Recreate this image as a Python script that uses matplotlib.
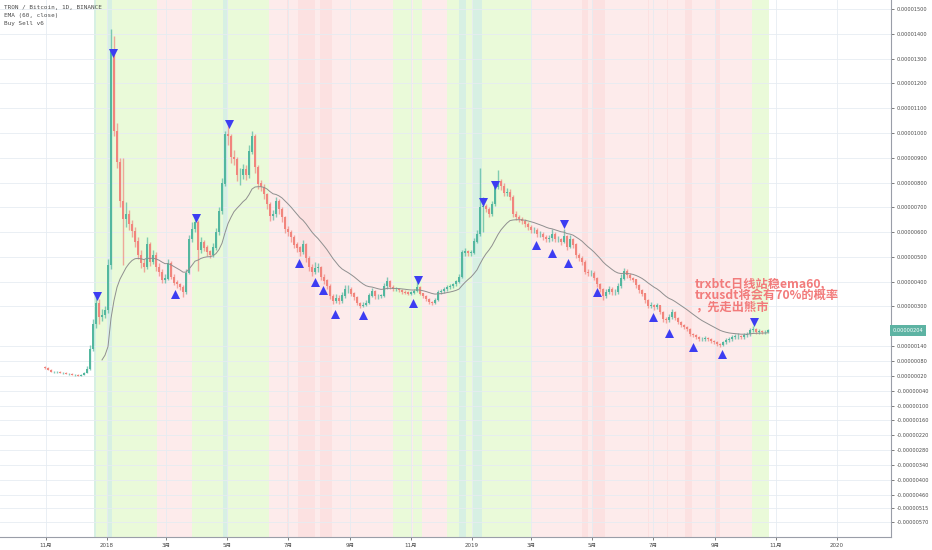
import numpy as np
import pandas as pd
import matplotlib
matplotlib.use('Agg')
import matplotlib.pyplot as plt
from matplotlib.transforms import blended_transform_factory

plt.rcParams['font.family'] = ['DejaVu Sans', 'Noto Sans CJK SC']

SAT = 1e-8

# TRX/BTC (Binance), one candle every 3 days, prices in satoshi
start_date = '2017-10-31'
first_open = 55
close = [52, 44, 36, 36, 36, 32, 32, 28, 28, 24, 24, 20, 24, 32, 48, 129, 228, 315, 256, 264,
         284, 468, 1337, 1008, 883, 725, 652, 672, 632, 604, 562, 508, 476, 460, 550, 480, 508, 460, 440, 408,
         412, 476, 420, 396, 389, 378, 359, 436, 571, 612, 640, 529, 558, 538, 521, 508, 538, 600, 684, 796,
         996, 988, 904, 896, 830, 830, 852, 830, 925, 988, 861, 796, 783, 754, 712, 664, 672, 725, 692, 660,
         612, 600, 579, 550, 538, 521, 550, 496, 460, 440, 456, 460, 420, 404, 381, 341, 322, 333, 322, 344,
         370, 370, 352, 337, 315, 304, 307, 315, 344, 363, 341, 341, 344, 381, 400, 378, 370, 370, 367, 359,
         356, 352, 356, 363, 378, 352, 341, 330, 319, 315, 326, 359, 363, 370, 378, 381, 389, 400, 420, 517,
         521, 517, 517, 562, 592, 700, 704, 692, 672, 712, 783, 804, 787, 758, 762, 742, 672, 660, 652, 644,
         632, 620, 608, 608, 592, 592, 579, 571, 575, 592, 571, 571, 562, 583, 542, 571, 550, 508, 496, 480,
         440, 436, 436, 416, 389, 370, 344, 359, 370, 359, 359, 381, 412, 444, 428, 416, 408, 385, 367, 352,
         326, 304, 304, 296, 304, 276, 248, 244, 256, 276, 252, 236, 224, 216, 208, 188, 184, 176, 168, 168,
         172, 168, 160, 156, 148, 144, 156, 164, 168, 176, 180, 180, 176, 184, 188, 204, 208, 196, 200, 196,
         196, 204]
high = [58, 54, 46, 40, 39, 38, 35, 34, 31, 30, 27, 26, 27, 36, 60, 145, 250, 341, 330, 290,
        300, 490, 1420, 1390, 1040, 900, 900, 720, 690, 650, 620, 580, 530, 490, 580, 560, 530, 520, 475, 450,
        430, 490, 485, 430, 405, 395, 385, 450, 590, 640, 670, 650, 580, 570, 550, 530, 555, 615, 700, 820,
        1010, 1040, 995, 930, 905, 860, 875, 870, 950, 1010, 995, 870, 810, 795, 760, 720, 690, 740, 735, 700,
        665, 625, 610, 590, 560, 545, 570, 555, 505, 470, 480, 475, 465, 430, 410, 390, 350, 350, 345, 360,
        385, 385, 378, 360, 342, 320, 318, 325, 355, 375, 368, 350, 352, 395, 420, 405, 385, 378, 376, 372,
        365, 362, 364, 372, 410, 384, 356, 345, 334, 324, 333, 368, 372, 378, 386, 390, 396, 408, 430, 530,
        535, 530, 530, 575, 610, 860, 740, 715, 700, 725, 800, 850, 815, 800, 780, 775, 750, 685, 670, 662,
        655, 640, 630, 620, 615, 605, 600, 588, 590, 612, 600, 585, 578, 612, 590, 590, 578, 556, 515, 502,
        486, 450, 448, 442, 420, 395, 375, 372, 382, 378, 370, 395, 430, 456, 450, 435, 420, 412, 390, 372,
        356, 330, 318, 310, 316, 308, 280, 256, 268, 288, 280, 258, 240, 230, 220, 212, 194, 190, 180, 176,
        180, 178, 172, 166, 160, 152, 162, 172, 178, 186, 190, 192, 186, 194, 198, 214, 222, 212, 208, 206,
        204, 210]
low = [48, 42, 34, 33, 33, 30, 29, 26, 25, 22, 21, 18, 18, 22, 30, 45, 120, 215, 230, 240,
       255, 275, 450, 990, 860, 700, 468, 620, 610, 580, 540, 490, 455, 440, 450, 465, 470, 445, 425, 395,
       395, 405, 410, 385, 375, 365, 340, 350, 430, 560, 600, 444, 515, 525, 505, 495, 500, 530, 590, 675,
       785, 950, 880, 870, 805, 790, 815, 810, 820, 915, 840, 775, 765, 735, 695, 645, 650, 660, 675, 640,
       595, 585, 560, 535, 520, 505, 510, 480, 445, 425, 430, 440, 405, 390, 370, 330, 310, 315, 312, 315,
       335, 355, 342, 328, 305, 295, 296, 300, 310, 338, 332, 332, 334, 338, 372, 370, 362, 362, 360, 352,
       349, 345, 346, 350, 358, 345, 334, 322, 312, 308, 310, 322, 352, 356, 364, 372, 375, 384, 395, 415,
       505, 505, 505, 510, 555, 585, 600, 680, 660, 665, 705, 775, 770, 745, 745, 730, 660, 648, 640, 632,
       620, 608, 598, 596, 580, 580, 568, 560, 562, 566, 560, 560, 550, 555, 530, 535, 538, 495, 484, 468,
       430, 425, 424, 405, 378, 358, 326, 335, 350, 348, 348, 352, 375, 405, 415, 405, 398, 375, 356, 342,
       316, 295, 294, 286, 290, 268, 238, 234, 238, 250, 244, 228, 216, 208, 200, 180, 176, 168, 160, 160,
       162, 160, 152, 148, 140, 136, 140, 150, 158, 162, 170, 170, 168, 170, 178, 182, 196, 188, 190, 188,
       188, 192]

# Buy Sell v6 signals (date, price level of the marker in satoshi)
sell_dates = ['2017-12-22', '2018-01-07', '2018-03-31', '2018-05-03', '2018-11-08',
              '2019-01-12', '2019-01-24', '2019-04-03', '2019-10-10']
sell_levels = [344, 1321, 656, 1038, 408, 721, 792, 633, 236]
buy_dates = ['2018-03-10', '2018-07-12', '2018-07-28', '2018-08-05', '2018-08-17', '2018-09-14',
             '2018-11-03', '2019-03-06', '2019-03-22', '2019-04-07', '2019-05-06', '2019-07-01',
             '2019-07-17', '2019-08-10', '2019-09-08']
buy_levels = [352, 476, 400, 367, 268, 264, 315, 550, 517, 476, 359, 256, 192, 136, 110]

# background regimes
bull_zones = [('2017-12-19', '2018-02-20'), ('2018-03-27', '2018-06-12'), ('2018-10-14', '2018-11-02'),
              ('2018-11-03', '2018-11-12'), ('2018-12-07', '2019-03-01'), ('2019-10-08', '2019-10-25')]
bear_zones = [('2018-02-20', '2018-03-27'), ('2018-06-12', '2018-10-14'), ('2018-11-02', '2018-11-03'),
              ('2018-11-12', '2018-12-07'), ('2019-03-01', '2019-10-08')]
bull_flash = [('2017-12-19', '2017-12-21'), ('2018-01-01', '2018-01-06'), ('2018-04-27', '2018-05-02'),
              ('2018-12-19', '2018-12-26'), ('2019-01-02', '2019-01-11')]
bear_flash = [('2018-06-30', '2018-07-02'), ('2018-07-11', '2018-07-28'), ('2018-08-02', '2018-08-14'),
              ('2019-04-21', '2019-04-27'), ('2019-05-01', '2019-05-14'), ('2019-06-26', '2019-06-27'),
              ('2019-07-01', '2019-07-02'), ('2019-07-15', '2019-07-16'), ('2019-08-02', '2019-08-09'),
              ('2019-09-01', '2019-09-06')]

ytick_sat = [1500, 1400, 1300, 1200, 1100, 1000, 900, 800, 700, 600, 500, 400, 300, 140, 80, 20,
             -40, -100, -160, -220, -280, -340, -400, -460, -515, -570]
xtick_dates = ['2017-11-01', '2018-01-01', '2018-03-01', '2018-05-01', '2018-07-01', '2018-09-01',
               '2018-11-01', '2019-01-01', '2019-03-01', '2019-05-01', '2019-07-01', '2019-09-01',
               '2019-11-01', '2020-01-01']
xtick_labels = ['11月', '2018', '3月', '5月', '7月', '9月', '11月', '2019', '3月', '5月', '7月', '9月',
                '11月', '2020']
last_price = 204

# ---- derived series
dates = pd.date_range(start_date, periods=len(close), freq='3D')
c = np.array(close) * SAT
o = np.array([first_open] + close[:-1]) * SAT
h = np.array(high) * SAT
l = np.array(low) * SAT

# EMA 60 days ~ 20 bars of 3 days, seeded with SMA like TradingView
n = 20
alpha = 2 / (n + 1)
ema = np.full(len(c), np.nan)
ema[n - 1] = c[:n].mean()
for i in range(n, len(c)):
    ema[i] = alpha * c[i] + (1 - alpha) * ema[i - 1]

# ---- figure
fig = plt.figure(figsize=(9.32, 5.5), dpi=100)
ax = fig.add_axes([0, 13 / 550, 891 / 932, 537 / 550])

for a, b in bull_zones:
    ax.axvspan(pd.Timestamp(a), pd.Timestamp(b), color='#eafad9', lw=0, zorder=0.1)
for a, b in bear_zones:
    ax.axvspan(pd.Timestamp(a), pd.Timestamp(b), color='#fdebeb', lw=0, zorder=0.1)
for a, b in bull_flash:
    ax.axvspan(pd.Timestamp(a), pd.Timestamp(b), color='#d7f0e3', lw=0, zorder=0.2)
for a, b in bear_flash:
    ax.axvspan(pd.Timestamp(a), pd.Timestamp(b), color='#fce1e1', lw=0, zorder=0.2)

xt = [pd.Timestamp(d) for d in xtick_dates]
for v in ytick_sat:
    ax.axhline(v * SAT, color='#e6ecf2', lw=0.6, zorder=0.3)
for d in xt:
    ax.axvline(d, color='#e6ecf2', lw=0.6, zorder=0.3)

up = c >= o
col = np.where(up, '#53b79f', '#f1857d')
ax.vlines(dates, l, h, colors=col, lw=1.0, alpha=0.7, zorder=2)
ax.bar(dates, np.abs(c - o) + 1.0 * SAT, bottom=np.minimum(o, c), width=2.9,
       color=col, lw=0, zorder=3)

ax.plot(dates, ema, color='#8f8f8f', lw=0.7, zorder=4)

ax.scatter(pd.to_datetime(sell_dates), np.array(sell_levels) * SAT, marker='v', s=42,
           color='#3d3df2', lw=0, zorder=5)
ax.scatter(pd.to_datetime(buy_dates), np.array(buy_levels) * SAT, marker='^', s=42,
           color='#3d3df2', lw=0, zorder=5)

ax.set_xlim(pd.Timestamp('2017-09-16'), pd.Timestamp('2020-02-24'))
ax.set_ylim(-6.302e-6, 1.5369e-5)

ax.yaxis.tick_right()
ax.set_yticks([v * SAT for v in ytick_sat])
ax.set_yticklabels([f'{v * SAT:.8f}' for v in ytick_sat])
ax.set_xticks(xt)
ax.set_xticklabels(xtick_labels)
ax.tick_params(axis='y', labelsize=3.6, colors='#4a4a4a', length=2.5, width=0.5, pad=1.5)
ax.tick_params(axis='x', labelsize=4, colors='#4a4a4a', length=2.5, width=0.5, pad=2)
for s in ['top', 'left']:
    ax.spines[s].set_visible(False)
for s in ['right', 'bottom']:
    ax.spines[s].set_color('#9a9ea8')
    ax.spines[s].set_linewidth(0.8)

# last price label
tr = blended_transform_factory(ax.transAxes, ax.transData)
ax.text(1.002, last_price * SAT, f'{last_price * SAT:.8f}', transform=tr, ha='left', va='center',
        fontsize=3.6, color='white', clip_on=False,
        bbox=dict(boxstyle='square,pad=0.6', fc='#5db3a3', ec='none'))

# header
hdr = ['TRON / Bitcoin, 1D, BINANCE', 'EMA (60, close)', 'Buy Sell v6']
for i, t in enumerate(hdr):
    ax.text(0.0045, 1 - (7 + 8.5 * i) / 537, t, transform=ax.transAxes, fontsize=4.3,
            family='DejaVu Sans Mono', color='#4d4d4d', va='center', ha='left')

# note
note = ['trxbtc日线站稳ema60,', 'trxusdt将会有70%的概率', '，先走出熊市']
for i, t in enumerate(note):
    ax.text(695 / 891, 1 - (284 + 11.7 * i) / 537, t, transform=ax.transAxes, fontsize=8.8,
            family=['Noto Sans CJK SC', 'DejaVu Sans'], weight='bold', color='#f27b7b',
            va='center', ha='left', zorder=6)

fig.savefig('out.png', dpi=100)
